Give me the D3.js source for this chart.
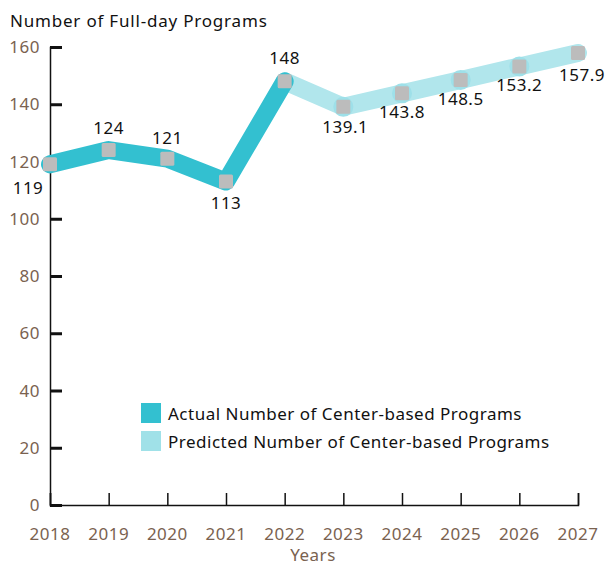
<!DOCTYPE html>
<html>
<head>
<meta charset="utf-8">
<script src="https://cdn.jsdelivr.net/npm/d3@7"></script>
<style>
  body { margin: 0; background: #fff; }
  text { font-family: "Noto Sans", sans-serif; font-size: 17px; letter-spacing: 0.5px; }
</style>
</head>
<body>
<div class="chart"></div>
<script>
// data
var years = [2018, 2019, 2020, 2021, 2022, 2023, 2024, 2025, 2026, 2027];
var actualYears = [2018, 2019, 2020, 2021, 2022];
var actualValues = [119, 124, 121, 113, 148];
var predictedYears = [2022, 2023, 2024, 2025, 2026, 2027];
var predictedValues = [148, 139.1, 143.8, 148.5, 153.2, 157.9];
var yTicks = [0, 20, 40, 60, 80, 100, 120, 140, 160];
var legendLabels = ['Actual Number of Center-based Programs', 'Predicted Number of Center-based Programs'];

var width = 616, height = 565;
var brown = '#7a6250';
var actualColor = '#33c0d0';
var predColor = '#b1e6ec';

var svg = d3.select('.chart').append('svg').attr('width', width).attr('height', height);

var x = d3.scaleLinear().domain([2018, 2027]).range([50, 578]);
var y = d3.scaleLinear().domain([0, 160]).range([505, 47]);

// title
svg.append('text').attr('x', 10).attr('y', 27)
	.attr('fill', '#111')
	.style('letter-spacing', '0.8px')
	.text('Number of Full-day Programs');

// y axis
var yAxis = svg.append('g').attr('transform', 'translate(50,0)')
	.call(d3.axisRight(y).tickValues(yTicks).tickSize(12).tickFormat(''));
yAxis.select('.domain').attr('stroke', '#111').attr('stroke-width', 1.5);
yAxis.selectAll('.tick line').attr('stroke', '#111').attr('stroke-width', 3);

svg.selectAll('.ylab').data(yTicks).enter().append('text')
	.attr('class', 'ylab')
	.attr('x', 40).attr('y', function(d) { return y(d) + 6; })
	.attr('text-anchor', 'end')
	.attr('fill', brown)
	.text(function(d) { return d; });

// x axis
var xAxis = svg.append('g').attr('transform', 'translate(0,505)')
	.call(d3.axisTop(x).tickValues(years).tickSize(12).tickFormat(''));
xAxis.select('.domain').attr('stroke', '#111').attr('stroke-width', 1.5);
xAxis.selectAll('.tick line').attr('stroke', '#111').attr('stroke-width', 1.5);

svg.selectAll('.xlab').data(years).enter().append('text')
	.attr('class', 'xlab')
	.attr('x', function(d) { return x(d); }).attr('y', 540)
	.attr('text-anchor', 'middle')
	.attr('fill', brown)
	.text(function(d) { return d; });

svg.append('text').attr('x', 313).attr('y', 561)
	.attr('text-anchor', 'middle')
	.attr('fill', brown)
	.text('Years');

// predicted line
var predLine = d3.line().x(function(d, i) { return x(predictedYears[i]); }).y(function(d) { return y(d); });
svg.append('path').datum(predictedValues)
	.attr('d', predLine)
	.attr('fill', 'none').attr('stroke', predColor)
	.attr('stroke-width', 18).attr('stroke-linejoin', 'round').attr('stroke-linecap', 'round');

// slightly darker joints on the predicted line
svg.selectAll('.joint').data(predictedValues.slice(1, -1)).enter().append('circle')
	.attr('class', 'joint')
	.attr('cx', function(d, i) { return x(predictedYears[i + 1]); })
	.attr('cy', function(d) { return y(d); })
	.attr('r', 10)
	.attr('fill', '#9ee0e9');

// actual line
var line = d3.line().x(function(d, i) { return x(actualYears[i]); }).y(function(d) { return y(d); });
svg.append('path').datum(actualValues)
	.attr('d', line)
	.attr('fill', 'none').attr('stroke', actualColor)
	.attr('stroke-width', 18).attr('stroke-linejoin', 'round').attr('stroke-linecap', 'round');

// markers
var allYears = actualYears.concat(predictedYears.slice(1));
var allValues = actualValues.concat(predictedValues.slice(1));
svg.selectAll('.mk').data(allValues).enter().append('rect')
	.attr('class', 'mk')
	.attr('x', function(d, i) { return x(allYears[i]) - 7; })
	.attr('y', function(d) { return y(d) - 7; })
	.attr('width', 14).attr('height', 14).attr('rx', 1.5)
	.attr('fill', '#bcbcbc');

// value labels (dx, dy offsets relative to point)
var labelDx = [-22, 0, 0, 0, 0, 2, 0, 0, 0, 4];
var labelDy = [30, -16, -15, 27, -17, 26, 25, 25, 25, 28];
svg.selectAll('.vl').data(allValues).enter().append('text')
	.attr('class', 'vl')
	.attr('x', function(d, i) { return x(allYears[i]) + labelDx[i]; })
	.attr('y', function(d, i) { return y(d) + labelDy[i]; })
	.attr('text-anchor', 'middle')
	.attr('fill', '#111')
	.text(function(d) { return d; });

// legend
var legendColors = [actualColor, '#a0e1e8'];
var lg = svg.selectAll('.lg').data(legendLabels).enter().append('g')
	.attr('class', 'lg')
	.attr('transform', function(d, i) { return 'translate(141,' + (403 + i * 28) + ')'; });
lg.append('rect').attr('width', 20).attr('height', 20)
	.attr('fill', function(d, i) { return legendColors[i]; });
lg.append('text').attr('x', 27).attr('y', 17)
	.attr('fill', '#111')
	.text(function(d) { return d; });
</script>
</body>
</html>
